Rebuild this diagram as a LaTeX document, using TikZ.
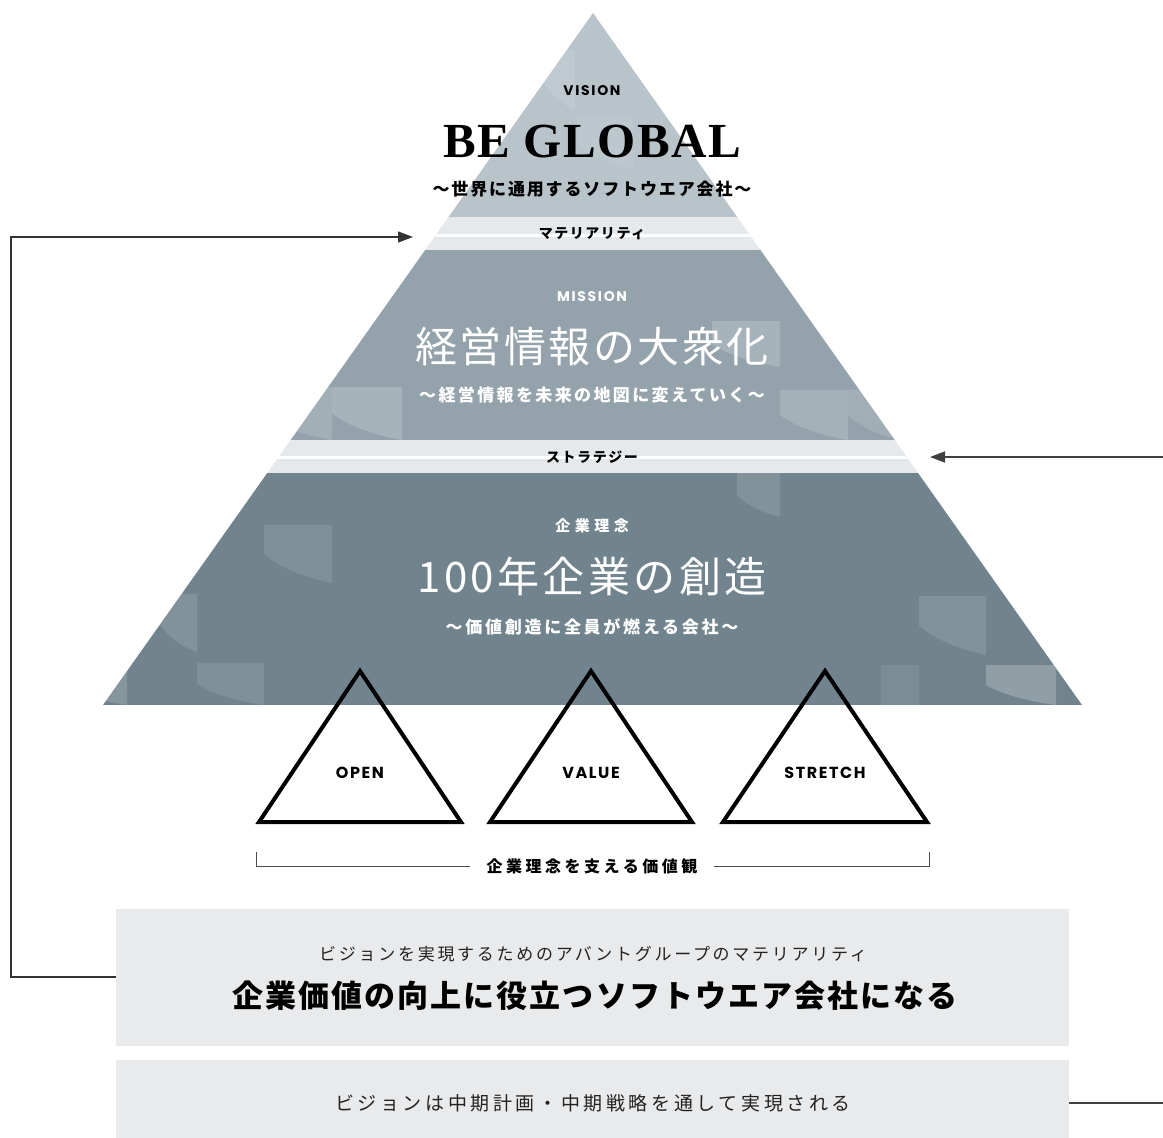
\documentclass[tikz,border=0pt]{standalone}
\usepackage{fontspec}
\setmainfont{Liberation Serif}
\newfontfamily\jp{Noto Sans CJK JP}
\newfontfamily\pop{Poppins}
\usetikzlibrary{arrows.meta}
\definecolor{vis}{HTML}{B8C3CA}
\definecolor{bandc}{HTML}{E6E9EB}
\definecolor{mis}{HTML}{94A3AB}
\definecolor{phil}{HTML}{71848D}
\definecolor{boxg}{HTML}{E9EAEC}
\definecolor{linec}{HTML}{333333}
\definecolor{txtc}{HTML}{222222}
\newcommand\fs[1]{\fontsize{#1}{#1}\selectfont}
\newcommand\ls[1]{\addfontfeature{LetterSpace=#1}}
\newcommand\deco[5]{\fill[white,opacity=#1] (#2,#3) -- (#4,#3) -- (#4,#5)
  .. controls ({#2+0.6*(#4-#2)},{#5-0.1*(#5-#3)}) and ({#2+0.25*(#4-#2)},{#3+0.75*(#5-#3)}) .. (#2,{#3+0.5*(#5-#3)}) -- cycle;}
\tikzset{
  txt/.style={inner sep=0pt, anchor=center},
  valtri/.style={draw=black, line width=4pt, miter limit=10},
  conn/.style={draw=linec, line width=1.3pt},
  brk/.style={draw=black!70, line width=0.9pt},
  gbox/.style={fill=boxg, draw=none, minimum width=953pt, inner sep=0pt},
  tip/.style={-{Triangle[length=15pt,width=11pt]}}
}
\begin{document}
\begin{tikzpicture}[x=1pt,y=-1pt]
\useasboundingbox (0,0) rectangle (1163,1138);
% pyramid
\begin{scope}
\clip (593,13) -- (1082,705) -- (103,705) -- cycle;
\fill[vis] (90,0) rectangle (1090,217);
\fill[mis] (90,250) rectangle (1090,440);
\fill[phil] (90,473) rectangle (1090,705);
% decorative squares
\deco{0.10}{542}{50}{575}{110}
\deco{0.08}{577}{117}{633}{170}
\deco{0.18}{332}{387}{402}{440}
\deco{0.14}{260}{387}{332}{440}
\deco{0.18}{712}{321}{780}{367}
\deco{0.16}{780}{390}{848}{440}
\deco{0.12}{848}{390}{900}{440}
\deco{0.12}{737}{473}{780}{517}
\deco{0.10}{264}{525}{332}{583}
\deco{0.12}{159}{594}{197}{652}
\deco{0.10}{197}{663}{264}{705}
\deco{0.15}{60}{663}{127}{705}
\deco{0.12}{919}{596}{986}{655}
\deco{0.22}{986}{665}{1056}{705}
\fill[white,opacity=0.07] (881,665) rectangle (919,705);
% light bands
\fill[bandc] (90,217) rectangle (1090,250);
\fill[white] (90,234) rectangle (1090,236.5);
\fill[bandc] (90,440) rectangle (1090,473);
\fill[white] (90,456) rectangle (1090,458.5);
\end{scope}
% texts in pyramid
\node[txt] (vision) at (592,91) {\pop\bfseries\fs{14}\ls{12}VISION};
\node[txt] (beglobal) at (592,142) {\bfseries\fs{49}\ls{3}BE GLOBAL};
\node[txt] (visionsub) at (592,189) {\jp\bfseries\fs{17}\ls{11}〜世界に通用するソフトウエア会社〜};
\node[txt] (mat) at (592,234) {\jp\bfseries\fs{14}\ls{11}マテリアリティ};
\node[txt,text=white] (mission) at (592,297) {\pop\bfseries\fs{14}\ls{12}MISSION};
\node[txt,text=white] (missionmain) at (592,347) {\jp\fs{42}\ls{6}経営情報の大衆化};
\node[txt,text=white] (missionsub) at (592,395) {\jp\bfseries\fs{17}\ls{14}〜経営情報を未来の地図に変えていく〜};
\node[txt] (strat) at (592,457) {\jp\bfseries\fs{14}\ls{11}ストラテジー};
\node[txt,text=white] (phil) at (592,526) {\jp\bfseries\fs{15}\ls{30}企業理念};
\node[txt,text=white] (philmain) at (592,576) {\jp\fs{42}\ls{8}100年企業の創造};
\node[txt,text=white] (philsub) at (592,627) {\jp\bfseries\fs{17}\ls{16}〜価値創造に全員が燃える会社〜};
% value triangles
\draw[valtri] (360,671) -- (461,822) -- (259,822) -- cycle;
\draw[valtri] (591,671) -- (692,822) -- (490,822) -- cycle;
\draw[valtri] (825,671) -- (927,822) -- (723,822) -- cycle;
\node[txt] (open) at (360,773) {\pop\bfseries\fs{16}\ls{10}OPEN};
\node[txt] (value) at (591,773) {\pop\bfseries\fs{16}\ls{10}VALUE};
\node[txt] (stretch) at (825,773) {\pop\bfseries\fs{16}\ls{10}STRETCH};
% bracket
\node[txt,inner xsep=16pt] (vals) at (592,866) {\jp\bfseries\fs{16}\ls{22}企業理念を支える価値観};
\draw[brk] (256,852) |- (vals.west);
\draw[brk] (vals.east) -| (929,852);
% bottom boxes
\node[gbox, minimum height=137pt] (box1) at (592.5,977) {};
\node[gbox, minimum height=86pt] (box2) at (592.5,1103) {};
\node[txt,text=txtc] (b1a) at (593,954) {\jp\fs{17}\ls{16}ビジョンを実現するためのアバントグループのマテリアリティ};
\node[txt,text=black] (b1b) at (595,996) {\jp\bfseries\fs{31}\ls{6.5}企業価値の向上に役立つソフトウエア会社になる};
\node[txt,text=txtc] (b2a) at (593,1103) {\jp\fs{19}\ls{19}ビジョンは中期計画・中期戦略を通して実現される};
% connectors
\coordinate (matL) at (413,237);
\coordinate (stratR) at (930,457);
\coordinate (leftcorner) at (11,977);
\coordinate (rightcorner) at (1175,1103);
\draw[conn,tip] (box1.west) -- (leftcorner) |- (matL);
\draw[conn,draw=black!75,line width=1.5pt,tip] (box2.east) -- (rightcorner) |- (stratR);
\end{tikzpicture}
\end{document}
